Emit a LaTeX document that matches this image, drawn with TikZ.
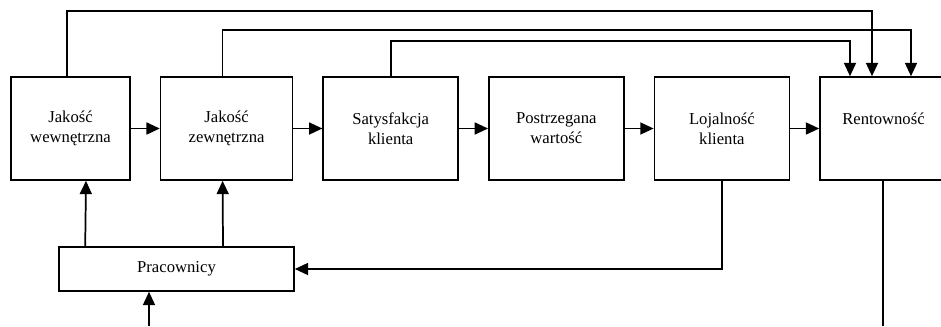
\documentclass[tikz,border=0pt]{standalone}
\usepackage{fontspec}
\setmainfont{Liberation Serif}
\usepackage{tikz}
\usetikzlibrary{arrows.meta,positioning,calc}

\begin{document}
\begin{tikzpicture}[
    x=0.75pt, y=-0.75pt,
    node distance=21.75pt,
    box/.style={rectangle, draw, line width=1.2pt, align=center, inner sep=0pt,
                minimum width=101.25pt, minimum height=77.25pt,
                font=\fontsize{12.5}{15}\selectfont},
    arrow/.style={-{Triangle[length=10pt,width=9pt]}, line width=1.3pt}
  ]
    \useasboundingbox (0,0) rectangle (941,326);
    % top row
    \node[box, minimum width=89.25pt] at (70.5,128.5) (jw) {Jakość\\wewnętrzna};
    \node[box, minimum width=99pt, right=of jw]  (jz)   {Jakość\\zewnętrzna};
    \node[box, right=of jz]   (sat)  {Satysfakcja\\klienta};
    \node[box, right=of sat]  (wart) {Postrzegana\\wartość};
    \node[box, right=of wart] (loj)  {Lojalność\\klienta};
    \node[box, minimum width=95.25pt, right=of loj] (rent) {Rentowność\\\mbox{}};
    % bottom
    \node[box, minimum width=176.25pt, minimum height=33pt] at (176.5,269) (prac) {Pracownicy};
    \coordinate (in)  at (149,326);
    \coordinate (out) at (883,326);

    \draw[arrow] (jw)   -- (jz);
    \draw[arrow] (jz)   -- (sat);
    \draw[arrow] (sat)  -- (wart);
    \draw[arrow] (wart) -- (loj);
    \draw[arrow] (loj)  -- (rent);

    % feedback lines to Rentowność
    \draw[arrow] ($(jw.north)+(-3.5,0)$) -- ++(0,-65) -| ($(rent.north)+(-11.5,0)$);
    \draw[arrow] ($(jz.north)+(-4,0)$) -- ++(0,-46) -| ($(rent.north)+(27.5,0)$);
    \draw[arrow] (sat.north) -- ++(0,-35) -| ($(rent.north)+(-33.5,0)$);

    \draw[arrow] ($(prac.north west)+(27,0)$) -- ($(jw.south)+(15.5,0)$);
    \draw[arrow] ($(prac.north)+(46.5,0)$) -- ($(jz.south)+(-4,0)$);
    \draw[arrow] (loj.south) |- (prac.east);
    \draw[arrow] (in) -- (in |- prac.south);
    \draw[line width=1.3pt] (out |- rent.south) -- (out);
  \end{tikzpicture}
\end{document}
